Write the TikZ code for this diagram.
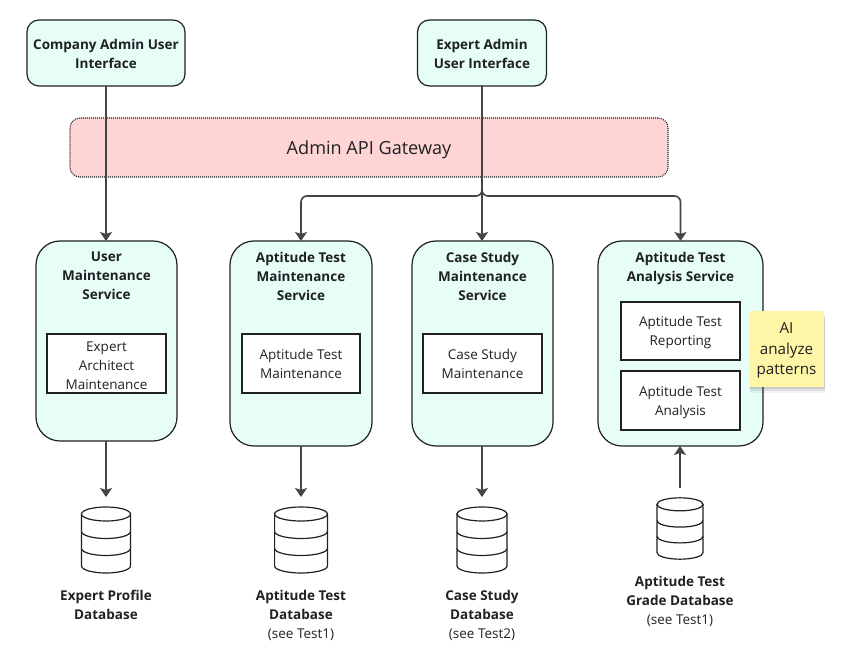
\documentclass[tikz,border=0pt]{standalone}
\usepackage{fontspec}
\setmainfont{Open Sans}
\usetikzlibrary{arrows.meta}
\definecolor{mint}{HTML}{E7FDF8}
\definecolor{gatepink}{HTML}{FFD4D4}
\definecolor{stickyy}{HTML}{FEF5A6}
\definecolor{ink}{HTML}{1F2123}
\definecolor{wire}{HTML}{444444}
\tikzset{
  x=1pt,y=-1pt,
  every node/.style={inner sep=0pt,outer sep=0pt,text=ink,font=\fontsize{13.5}{19}\selectfont,align=center},
  uibox/.style={draw=ink,line width=1.2pt,fill=mint,rounded corners=12pt},
  svcbox/.style={draw=ink,line width=1.2pt,fill=mint,rounded corners=24pt},
  svctitle/.style={font=\fontsize{13.5}{19}\selectfont\bfseries,anchor=north},
  innerbox/.style={draw=ink,line width=1.1pt,fill=white,minimum width=119pt},
  gatebox/.style={draw=ink,dash pattern=on 1pt off 1pt,line width=1.1pt,fill=gatepink,rounded corners=10pt},
  sticky/.style={fill=stickyy},
  conn/.style={draw=wire,line width=1.6pt,-{Stealth[length=9pt,width=12pt,inset=2pt]}},
  dbshape/.style={minimum width=48pt,minimum height=66pt},
  dblabel/.style={anchor=north},
  dbicon/.pic={
    \draw[ink,line width=1.2pt,line cap=round]
      (-24,-26) -- (-24,26) arc[x radius=24,y radius=7,start angle=180,end angle=0] -- (24,-26);
    \draw[ink,line width=1.2pt] (-24,-8.5) arc[x radius=24,y radius=7,start angle=180,end angle=0];
    \draw[ink,line width=1.2pt] (-24,8.5) arc[x radius=24,y radius=7,start angle=180,end angle=0];
    \draw[ink,line width=1.2pt,fill=white] (0,-26) ellipse[x radius=24,y radius=7];
  }
}
\newcommand{\bx}[7]{% style,name,x0,y0,x1,y1,text
  \node[#1,minimum width=#5-#3,minimum height=#6-#4] (#2) at ({(#3+#5)/2},{(#4+#6)/2}) {#7};}
\begin{document}
\begin{tikzpicture}
\useasboundingbox (0,0) rectangle (844,652);
\fill[white] (0,0) rectangle (844,652);
% gateway
\bx{gatebox}{gate}{70}{118}{668}{177}{}
\node[font=\fontsize{18.1}{22}\selectfont] (gatet) at (369,149.5) {Admin API Gateway};
% interfaces
\bx{uibox}{company}{27}{20}{185}{86}{}
\bx{uibox}{expert}{417.5}{20}{546.5}{86}{}
\node[svctitle] (companyt) at (106,39) {Company Admin User\\Interface};
\node[svctitle] (expertt) at (482,39) {Expert Admin\\User Interface};
% services
\bx{svcbox}{user}{36}{241}{177}{441}{}
\bx{svcbox}{atm}{230}{241}{372}{446}{}
\bx{svcbox}{csm}{412}{241}{553}{446}{}
\bx{svcbox}{ata}{598}{241}{763}{446}{}
\node[svctitle] (usert) at (106.5,252) {User\\Maintenance\\Service};
\node[svctitle] (atmt) at (301,252) {Aptitude Test\\Maintenance\\Service};
\node[svctitle] (csmt) at (482.5,252) {Case Study\\Maintenance\\Service};
\node[svctitle] (atat) at (680.5,252) {Aptitude Test\\Analysis Service};
% inner boxes
\bx{innerbox}{i1}{47}{334}{166}{393}{}
\bx{innerbox}{i2}{242}{334}{360}{393}{}
\bx{innerbox}{i3}{423}{334}{542}{393}{}
\bx{innerbox}{i4}{621}{302}{740}{360}{}
\bx{innerbox}{i5}{621}{371}{740}{430}{}
\node (i1t) at (106.5,366) {Expert\\Architect\\Maintenance};
\node (i2t) at (301,363.5) {Aptitude Test\\Maintenance};
\node (i3t) at (482.5,363.5) {Case Study\\Maintenance};
\node (i4t) at (680.5,332.5) {Aptitude Test\\Reporting};
\node (i5t) at (680.5,402) {Aptitude Test\\Analysis};
% sticky note
\foreach \d/\o in {6/0.05,4/0.07,2/0.09}{
  \fill[black,opacity=\o] (750,{313+\d}) rectangle (825,{387+\d});
}
\bx{sticky}{note}{749}{311}{824}{387}{}
\node[font=\fontsize{15.2}{20.2}\selectfont] (notet) at (786.5,350.5) {AI\\analyze\\patterns};
% databases
\node[dbshape] (db1) at (106,540) {};
\node[dbshape] (db2) at (301,540) {};
\node[dbshape] (db3) at (482,540) {};
\node[dbshape] (db4) at (680,528.5) {};
\pic[xscale=1.02] at (db1) {dbicon};
\pic[xscale=1.10] at (db2) {dbicon};
\pic[xscale=1.04] at (db3) {dbicon};
\pic[xscale=0.96,yscale=0.93] at (db4) {dbicon};
\node[dblabel] (l1) at (106,590.5) {\bfseries Expert Profile\\\bfseries Database};
\node[dblabel] (l2) at (301,590.5) {\bfseries Aptitude Test\\\bfseries Database\\(see Test1)};
\node[dblabel] (l3) at (482,590.5) {\bfseries Case Study\\\bfseries Database\\(see Test2)};
\node[dblabel] (l4) at (680,576.5) {\bfseries Aptitude Test\\\bfseries Grade Database\\(see Test1)};
% connectors
\coordinate (branch) at (482,196);
\draw[conn] (company.south) -- (company.south |- user.north);
\draw[conn] (expert.south) -- (expert.south |- csm.north);
\draw[conn,rounded corners=6pt] (expert.south) -- (expert.south |- branch) -| (atm.north);
\draw[conn,rounded corners=6pt] (expert.south) -- (expert.south |- branch) -| (ata.north);
\draw[conn,shorten >=10pt] (user.south -| db1.north) -- (db1.north);
\draw[conn,shorten >=10pt] (atm.south) -- (db2.north);
\draw[conn,shorten >=10pt] (csm.south -| db3.north) -- (db3.north);
\draw[conn,shorten <=8pt] (db4.north) -- (db4.north |- ata.south);
\end{tikzpicture}
\end{document}
